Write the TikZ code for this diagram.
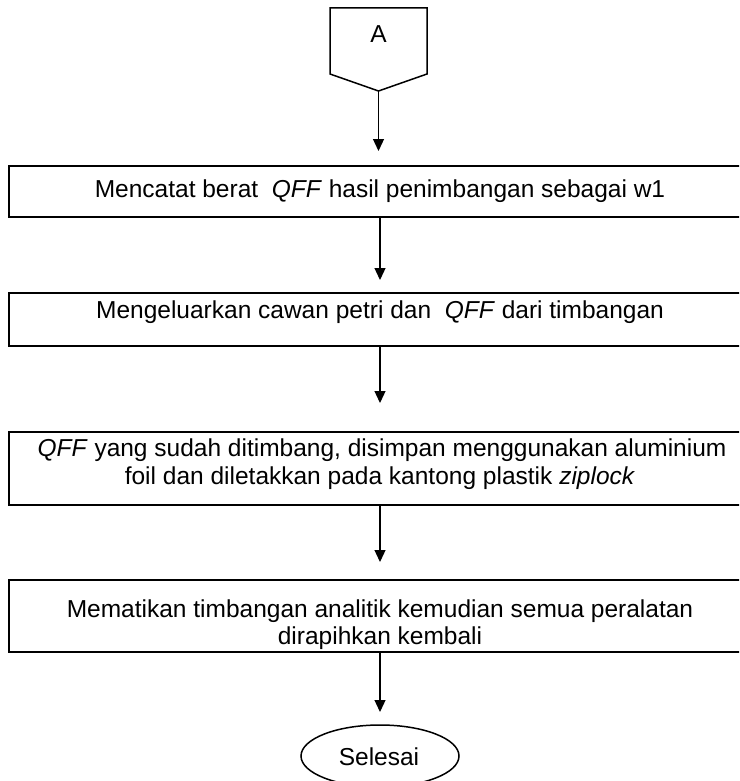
\documentclass[tikz,border=0pt]{standalone}
\usepackage{fontspec}
\setmainfont{Liberation Sans}
\usetikzlibrary{arrows.meta,calc,shapes.geometric}

\begin{document}
\begin{tikzpicture}[x=1pt,y=-1pt,
  every node/.style={inner sep=0pt,outer sep=0pt},
  stepbox/.style={draw=black,line width=1.6pt,rectangle,minimum width=742pt},
  txt/.style={font=\fontsize{24.5}{28}\selectfont,anchor=base},
  flow/.style={line width=1.3pt,-{Triangle[length=12pt,width=11pt]}},
  endcap/.style={draw=black,line width=1.5pt,ellipse,minimum width=158pt,minimum height=62pt}]
  \useasboundingbox (0,0) rectangle (739,781);
  \clip (0,0) rectangle (739,781);

  % off-page connector
  \node[minimum width=97pt,minimum height=83pt] (A) at (378.5,49.5) {};
  \draw[line width=1.5pt,line join=miter]
    (A.north west) -- (A.north east) -- ($(A.north east)+(0,66)$)
    -- (A.south) -- ($(A.north west)+(0,66)$) -- cycle;
  \node[txt] (tA) at (378.5,43) {A};

  % process steps
  \node[stepbox,minimum height=51pt] (b1) at (380,191.5) {};
  \node[txt] (t1) at (380,197) {Mencatat berat \ \textit{QFF} hasil penimbangan sebagai w1};

  \node[stepbox,minimum height=53pt] (b2) at (380,319.5) {};
  \node[txt] (t2) at (380,318) {Mengeluarkan cawan petri dan \ \textit{QFF} dari timbangan};

  \node[stepbox,minimum height=73pt] (b3) at (380,468.5) {};
  \node[txt] (t3a) at (382,456) {\textit{QFF} yang sudah ditimbang, disimpan menggunakan aluminium};
  \node[txt] (t3b) at (380,484) {foil dan diletakkan pada kantong plastik \textit{ziplock}};

  \node[stepbox,minimum height=72pt] (b4) at (380,616) {};
  \node[txt] (t4a) at (380,617) {Mematikan timbangan analitik kemudian semua peralatan};
  \node[txt] (t4b) at (380,644) {dirapihkan kembali};

  % terminator
  \node[endcap] (end) at (380,756) {};
  \node[txt] (tend) at (379,765) {Selesai};

  % connectors
  \draw[flow,shorten >=15pt] (A.south) -- (A.south |- b1.north);
  \draw[flow,shorten >=13pt] (b1.south) -- (b2.north);
  \draw[flow,shorten >=29pt] (b2.south) -- (b3.north);
  \draw[flow,shorten >=18pt] (b3.south) -- (b4.north);
  \draw[flow,shorten >=13pt] (b4.south) -- (end.north);
\end{tikzpicture}
\end{document}
